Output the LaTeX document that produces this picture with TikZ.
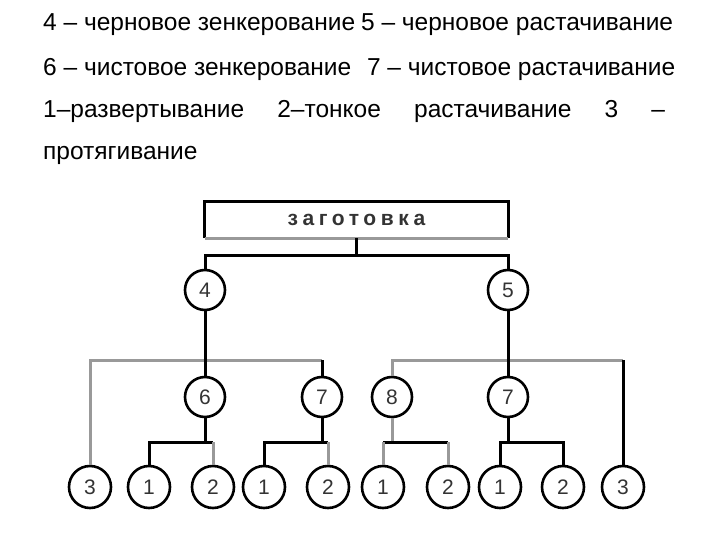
\documentclass[tikz,border=0pt]{standalone}
\usepackage{fontspec}
\setmainfont{Liberation Sans}
\newfontfamily\opfont{Liberation Sans}
\newfontfamily\zagfont[LetterSpace=22]{Liberation Sans}
\usetikzlibrary{calc}

\tikzset{
  op/.style={circle, draw, line width=2.6pt, minimum size=40pt, inner sep=0pt,
    font=\opfont\fontsize{21}{21}\selectfont, text=black!80},
  blk/.style={line width=3pt, black},
  gry/.style={line width=3pt, black!40},
}

\begin{document}
\begin{tikzpicture}[x=1pt, y=-1pt]
    \useasboundingbox (0,0) rectangle (720,540);

    % Legend
    \begin{scope}[font=\fontsize{24.5}{28}\selectfont]
    \node [anchor=base west, inner sep=0pt] (leg1) at (43,31)
        {\hbox to 630pt{4 – черновое зенкерование\hfill 5 – черновое растачивание}};
    \node [anchor=base west, inner sep=0pt] (leg2) at (43,76)
        {\hbox to 632pt{6 – чистовое зенкерование\hfill 7 – чистовое растачивание}};
    \node [anchor=base west, inner sep=0pt] (leg3) at (43,118)
        {\hbox to 622pt{1–развертывание\hfill 2–тонкое\hfill растачивание\hfill 3\hfill –}};
    \node [anchor=base west, inner sep=0pt] (leg4) at (43,160) {протягивание};
    \end{scope}

    % Blank
    \node [minimum width=303pt, minimum height=36pt, inner sep=0pt,
        font=\zagfont\bfseries\fontsize{21}{21}\selectfont, text=black!80] (zag) at (356.5,220) {заготовка};
    \draw [blk] (zag.south west) |- (zag.north east) -- (zag.south east);
    \draw [gry] (zag.south west) -- (zag.south east);

    % First level
    \node [op] (n4) at (205,290) {4};
    \node [op] (n5) at (508,290) {5};
    \coordinate (t0) at (356.5,255);
    \draw [blk] (zag.south) -- (t0);
    \draw [blk] (n4.north) |- (t0) -| (n5.north);

    % Second level
    \node [op] (n6) at (205,397) {6};
    \node [op] (n7a) at (322,397) {7};
    \node [op] (n8) at (392,397) {8};
    \node [op] (n7b) at (508,397) {7};

    % Third level
    \foreach \nm/\x/\t in {b1/90/3, b2/149/1, b3/213/2, b4/264/1, b5/328/2,
                           b6/383/1, b7/448/2, b8/500/1, b9/563/2, b10/623/3}
        \node [op, minimum size=42pt] (\nm) at (\x,487) {\t};

    % Branches under 4 and 5
    \coordinate (s4) at (205,360);
    \coordinate (s5) at (508,360);
    \draw [gry] (b1.north) |- (s4) -- (s4 -| n7a);
    \draw [blk] (n7a.north) -- (n7a.north |- s4);
    \draw [gry] (n8.north) |- (s5) -- (s5 -| b10);
    \draw [blk] (b10.north) -- (b10.north |- s5);
    \draw [blk] (n4) -- (n6);
    \draw [blk] (n5) -- (n7b);

    % Branches under the second level
    \coordinate (k6) at (205,442);
    \coordinate (k7a) at (322,442);
    \coordinate (k8) at (392,442);
    \coordinate (k7b) at (508,442);
    \draw [blk] (n6) -- (k6);
    \draw [blk] (b2.north) |- (k6) -- (k6 -| b3);
    \draw [gry] (k6 -| b3) -- (b3);
    \draw [blk] (n7a) -- (k7a);
    \draw [blk] (b4.north) |- (k7a) -- (k7a -| b5);
    \draw [gry] (k7a -| b5) -- (b5);
    \draw [gry] (n8) -- (k8);
    \draw [blk] (k8 -| b6) -- (k8 -| b7);
    \draw [gry] (k8 -| b6) -- (b6);
    \draw [gry] (k8 -| b7) -- (b7);
    \draw [blk] (n7b) -- (k7b);
    \draw [blk] (b8.north) |- (k7b) -| (b9.north);
\end{tikzpicture}
\end{document}
